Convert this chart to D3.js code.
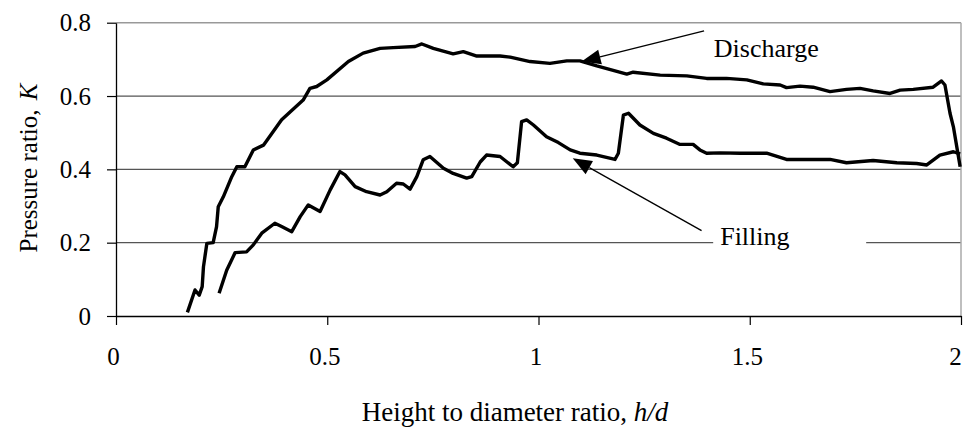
<!DOCTYPE html>
<html>
<head>
<meta charset="utf-8">
<script src="https://cdn.jsdelivr.net/npm/d3@7"></script>
<style>
  html, body { margin: 0; padding: 0; background: #fff; }
  svg { display: block; }
  text { font-family: "Liberation Serif", "Times New Roman", serif; fill: #000; }
</style>
</head>
<body>
<svg id="chart" width="963" height="429"></svg>
<script>
// ---- data ----
const dischargeH = [0.169,0.187,0.197,0.204,0.207,0.215,0.230,0.238,0.242,0.254,0.274,0.286,0.305,0.325,0.349,0.392,0.443,0.459,0.475,0.499,0.550,0.585,0.625,0.656,0.708,0.724,0.751,0.798,0.822,0.854,0.909,0.933,0.980,1.027,1.067,1.098,1.138,1.209,1.224,1.288,1.351,1.398,1.445,1.493,1.532,1.572,1.587,1.619,1.650,1.690,1.729,1.761,1.792,1.832,1.856,1.887,1.934,1.954,1.962,1.974,1.982,1.998];
const dischargeK = [0.010,0.071,0.057,0.080,0.134,0.198,0.200,0.244,0.298,0.325,0.380,0.407,0.407,0.453,0.466,0.535,0.589,0.621,0.626,0.644,0.694,0.717,0.730,0.732,0.735,0.742,0.730,0.715,0.721,0.709,0.709,0.706,0.694,0.689,0.696,0.696,0.682,0.660,0.665,0.657,0.655,0.648,0.648,0.644,0.633,0.630,0.623,0.627,0.624,0.612,0.618,0.621,0.614,0.607,0.616,0.618,0.624,0.641,0.630,0.553,0.516,0.407];

const fillingH = [0.244,0.262,0.282,0.309,0.325,0.345,0.376,0.392,0.416,0.436,0.455,0.483,0.507,0.530,0.542,0.566,0.593,0.625,0.641,0.664,0.680,0.696,0.712,0.727,0.743,0.775,0.798,0.830,0.842,0.862,0.877,0.909,0.940,0.950,0.960,0.972,0.988,1.019,1.047,1.075,1.098,1.138,1.181,1.189,1.201,1.213,1.240,1.272,1.303,1.335,1.366,1.382,1.398,1.430,1.477,1.540,1.587,1.690,1.729,1.792,1.848,1.895,1.919,1.950,1.982,1.998];
const fillingK = [0.062,0.125,0.173,0.175,0.194,0.226,0.253,0.244,0.230,0.271,0.303,0.285,0.344,0.394,0.385,0.353,0.339,0.330,0.339,0.362,0.360,0.346,0.380,0.426,0.435,0.403,0.389,0.376,0.380,0.420,0.439,0.435,0.407,0.418,0.530,0.535,0.521,0.489,0.473,0.453,0.444,0.439,0.427,0.444,0.548,0.553,0.521,0.498,0.485,0.468,0.468,0.453,0.444,0.445,0.444,0.444,0.427,0.427,0.418,0.424,0.418,0.416,0.412,0.439,0.448,0.442];

const xTicks = [0, 0.5, 1, 1.5, 2];
const xTickLabels = ["0", "0.5", "1", "1.5", "2"];
const yTicks = [0, 0.2, 0.4, 0.6, 0.8];
const yTickLabels = ["0", "0.2", "0.4", "0.6", "0.8"];

// annotations: text position and arrow start/tip, in data units
const annotations = [
  { label: "Discharge", th: 1.415, tk: 0.707, sh: 1.392, sk: 0.778, eh: 1.102, ek: 0.694 },
  { label: "Filling",   th: 1.430, tk: 0.194, sh: 1.386, sk: 0.233, eh: 1.081, ek: 0.430 }
];

// ---- layout ----
const svg = d3.select("#chart");
const x = d3.scaleLinear().domain([0, 2]).range([116, 961]);
const y = d3.scaleLinear().domain([0, 0.8]).range([316, 22.7]);

// gridlines
svg.append("g").selectAll("line").data([0.2, 0.4, 0.6]).join("line")
  .attr("x1", x(0)).attr("x2", x(2))
  .attr("y1", d => y(d)).attr("y2", d => y(d))
  .attr("stroke", "#555").attr("stroke-width", 1.2);

// plot-area border top & right
svg.append("line").attr("x1", x(0)).attr("x2", x(2)).attr("y1", y(0.8)).attr("y2", y(0.8))
  .attr("stroke", "#999").attr("stroke-width", 1.5);
svg.append("line").attr("x1", x(2)).attr("x2", x(2)).attr("y1", y(0.8)).attr("y2", y(0))
  .attr("stroke", "#aaa").attr("stroke-width", 1.5);

// axes
const fontSize = 25;
const xAxis = d3.axisBottom(x).tickValues(xTicks).tickFormat((d, i) => xTickLabels[i])
  .tickSizeInner(9).tickSizeOuter(0).tickPadding(22);
const gx = svg.append("g").attr("transform", `translate(0,${y(0)})`).call(xAxis);
gx.select(".domain").attr("stroke", "#000").attr("stroke-width", 1.3);
gx.selectAll(".tick line").attr("stroke", "#000").attr("stroke-width", 1.2);
gx.selectAll(".tick text").attr("font-size", fontSize)
  .attr("font-family", "Liberation Serif, Times New Roman, serif").attr("fill", "#000")
  .attr("dx", (d, i) => i === xTicks.length - 1 ? -6 : -3);

const yAxis = d3.axisLeft(y).tickValues(yTicks).tickFormat((d, i) => yTickLabels[i])
  .tickSizeInner(9).tickSizeOuter(0).tickPadding(16);
const gy = svg.append("g").attr("transform", `translate(${x(0)},0)`).call(yAxis);
gy.select(".domain").attr("stroke", "#000").attr("stroke-width", 1.3);
gy.selectAll(".tick line").attr("stroke", "#000").attr("stroke-width", 1.2);
gy.selectAll(".tick text").attr("font-size", fontSize)
  .attr("font-family", "Liberation Serif, Times New Roman, serif").attr("fill", "#000");

// axis titles
const xt = svg.append("text").attr("x", 515).attr("y", 421).attr("text-anchor", "middle")
  .attr("font-size", 27);
xt.append("tspan").text("Height to diameter ratio, ");
xt.append("tspan").attr("font-style", "italic").text("h/d");

const yt = svg.append("text").attr("transform", "translate(37,168) rotate(-90)")
  .attr("text-anchor", "middle").attr("font-size", fontSize);
yt.append("tspan").text("Pressure ratio, ");
yt.append("tspan").attr("font-style", "italic").attr("dx", 3).text("K");

// series lines
const line = d3.line().x(d => x(d[0])).y(d => y(d[1])).curve(d3.curveLinear);
const dischargeData = dischargeH.map((h, i) => [h, dischargeK[i]]);
const fillingData = fillingH.map((h, i) => [h, fillingK[i]]);
[dischargeData, fillingData].forEach(data => {
  svg.append("path").datum(data).attr("d", line)
    .attr("fill", "none").attr("stroke", "#000").attr("stroke-width", 3.4)
    .attr("stroke-linejoin", "round").attr("stroke-linecap", "butt");
});

// annotations
annotations.forEach(a => {
  const sx = x(a.sh), sy = y(a.sk), ex = x(a.eh), ey = y(a.ek);
  const tx = x(a.th), ty = y(a.tk);
  if (a.label === "Filling") {
    svg.append("rect").attr("x", tx - 7).attr("y", ty - 22).attr("width", 153).attr("height", 28)
      .attr("fill", "#fff");
  }
  const ang = Math.atan2(ey - sy, ex - sx);
  const len = 19, hw = 7.5;
  const bx = ex - len * Math.cos(ang), by = ey - len * Math.sin(ang);
  svg.append("line").attr("x1", sx).attr("y1", sy).attr("x2", bx).attr("y2", by)
    .attr("stroke", "#000").attr("stroke-width", 1.3);
  const p1 = [bx + hw * Math.sin(ang), by - hw * Math.cos(ang)];
  const p2 = [bx - hw * Math.sin(ang), by + hw * Math.cos(ang)];
  svg.append("path").attr("d", `M${ex},${ey}L${p1[0]},${p1[1]}L${p2[0]},${p2[1]}Z`).attr("fill", "#000");
  svg.append("text").attr("x", tx).attr("y", ty).attr("font-size", 26).text(a.label);
});
</script>
</body>
</html>
